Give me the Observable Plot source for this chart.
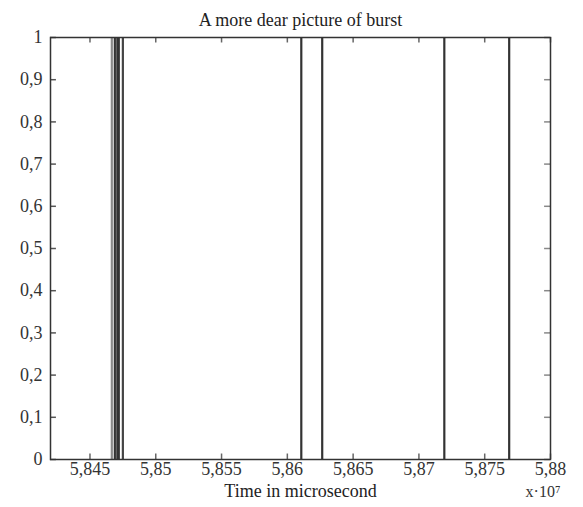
<!DOCTYPE html>
<html>
<head>
<meta charset="utf-8">
<script src="https://cdn.jsdelivr.net/npm/d3@7"></script>
<script src="https://cdn.jsdelivr.net/npm/@observablehq/plot@0.6"></script>
<style>
  html, body { margin: 0; padding: 0; background: #fff; }
  #chart svg { display: block; }
</style>
</head>
<body>
<div id="chart"></div>
<script>
// Burst times (microseconds)
const burstTimes = [58466600, 58468900, 58470800, 58471900, 58475000, 58610600, 58626500, 58719300, 58768600];
const burstShade = ["#8a8a8a", "#333", "#333", "#333", "#444", "#333", "#333", "#333", "#333"];
const xTicks = [58450000, 58500000, 58550000, 58600000, 58650000, 58700000, 58750000, 58800000];
const yTicks = [0, 0.1, 0.2, 0.3, 0.4, 0.5, 0.6, 0.7, 0.8, 0.9, 1];
const xDomain = [58420000, 58800000];
const titleText = "A more dear picture of burst";
const xLabel = "Time in microsecond";
const exponentLabel = "x·10⁷";

const bursts = burstTimes.map((t, i) => ({t, shade: burstShade[i]}));
const fmtY = d => String(d).replace(".", ",");
const fmtX = d => String(+(d / 1e7).toFixed(4)).replace(".", ",");
const tickLenX = 0.00045 * 1e7; // inward tick length in x units
const tickLenY = 0.013;
const serif = "'Liberation Serif', 'DejaVu Serif', serif";

const chart = Plot.plot({
  width: 583,
  height: 507,
  marginLeft: 50,
  marginRight: 33,
  marginTop: 37,
  marginBottom: 48,
  style: {fontFamily: serif, fontSize: "18px", color: "#222", background: "#fff"},
  x: {domain: xDomain, ticks: xTicks, tickFormat: fmtX, tickSize: 0, tickPadding: 3, label: null},
  y: {domain: [0, 1], ticks: yTicks, tickFormat: fmtY, tickSize: 0, tickPadding: 8, label: null},
  marks: [
    // inward ticks on all four sides
    Plot.ruleX(xTicks, {x: d => d, y1: 0, y2: tickLenY, stroke: "#666", strokeWidth: 1.5}),
    Plot.ruleX(xTicks, {x: d => d, y1: 1, y2: 1 - tickLenY, stroke: "#666", strokeWidth: 1.5}),
    Plot.ruleY(yTicks, {y: d => d, x1: xDomain[0], x2: xDomain[0] + tickLenX, stroke: "#555", strokeWidth: 1.5}),
    Plot.ruleY(yTicks, {y: d => d, x1: xDomain[1], x2: xDomain[1] - tickLenX, stroke: "#888", strokeWidth: 1.5}),
    Plot.ruleX(bursts, {x: "t", y1: 0, y2: 1, stroke: "shade", strokeWidth: 2.2}),
    Plot.frame({stroke: "#333", strokeWidth: 1.5}),
    Plot.axisX({ticks: xTicks, tickFormat: fmtX, tickSize: 0, tickPadding: 3, label: null, fontSize: 18, fontFamily: serif, fill: "#333"}),
    Plot.axisY({ticks: yTicks, tickFormat: fmtY, tickSize: 0, tickPadding: 8, label: null, fontSize: 18, fontFamily: serif, fill: "#333"}),
    Plot.text([titleText], {text: d => d, frameAnchor: "top", dy: -24, fontSize: 18, fontFamily: serif, fill: "#222"}),
    Plot.text([xLabel], {text: d => d, frameAnchor: "bottom", dy: 37, fontSize: 18, fontFamily: serif, fill: "#222"}),
    Plot.text([exponentLabel], {text: d => d, frameAnchor: "bottom-right", dy: 37, dx: 10, textAnchor: "end", fontSize: 16, fontFamily: serif, fill: "#333"})
  ]
});
document.getElementById("chart").appendChild(chart);
</script>
</body>
</html>
